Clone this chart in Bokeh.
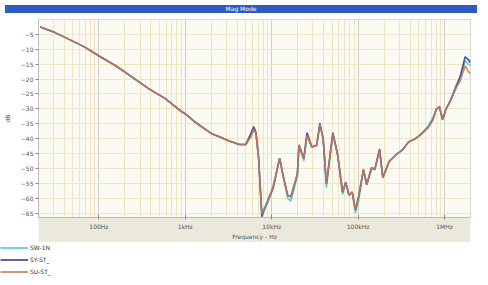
from bokeh.plotting import figure
from bokeh.models import (FixedTicker, Legend, LegendItem, Range1d, Div)
from bokeh.layouts import column
from bokeh.embed import file_html
from bokeh.resources import INLINE

# ---- data ----
title_text = "Mag Mode"
freq_hz = [21, 31, 44, 68, 104, 160, 247, 380, 583, 846, 1019, 1318, 2030, 2518,
           3120, 4219, 5012, 5702, 6210, 6580, 7060, 7690, 8750, 10400, 12360,
           13460, 15310, 16680, 19820, 20700, 23550, 25650, 29170, 33200, 36150,
           39450, 42950, 51050, 58050, 66100, 71900, 78400, 85500, 93100, 101400,
           115300, 125900, 143200, 156000, 177400, 193200, 229600, 272900, 323700,
           384600, 457100, 542000, 645000, 734500, 799700, 872900, 950600, 1035000,
           1178000, 1340000, 1524000, 1734000, 1892000, 2000000]

su_st_db = [-2.5, -4.4, -6.5, -9.2, -12.5, -15.7, -19.5, -23.3, -26.5, -30.3, -31.9,
            -34.6, -38.4, -39.5, -40.6, -42.0, -42.0, -39.5, -37.0, -38.2, -46.6,
            -65.5, -61.7, -56.3, -46.6, -52.0, -59.0, -59.5, -52.0, -42.2, -46.6,
            -39.0, -42.8, -42.2, -35.2, -40.1, -55.2, -38.4, -45.5, -58.0, -54.7,
            -59.0, -58.0, -63.9, -59.5, -50.4, -55.5, -49.8, -50.4, -43.9, -53.1,
            -47.6, -45.5, -43.9, -41.1, -40.1, -38.4, -36.3, -33.6, -30.3, -29.3,
            -33.6, -30.3, -27.1, -23.3, -20.5, -15.5, -17.5, -18.2]

sy_st_db = [-2.5, -4.4, -6.5, -9.2, -12.5, -15.7, -19.5, -23.3, -26.5, -30.3, -31.9,
            -34.6, -38.4, -39.5, -40.6, -42.0, -42.0, -38.5, -36.0, -38.0, -46.6,
            -66.2, -61.7, -56.3, -46.6, -52.0, -59.0, -59.5, -52.0, -42.2, -46.6,
            -38.0, -42.8, -42.2, -34.8, -40.1, -55.2, -38.0, -45.5, -58.0, -54.7,
            -59.0, -58.0, -63.9, -59.5, -50.4, -55.5, -49.8, -50.4, -43.5, -53.1,
            -47.6, -45.5, -43.9, -41.1, -40.1, -38.4, -36.3, -33.6, -30.3, -29.3,
            -33.6, -30.3, -27.1, -23.3, -19.0, -12.5, -13.5, -14.5]

sw_1n_db = [-2.5, -4.4, -6.5, -9.2, -12.5, -15.7, -19.5, -23.3, -26.5, -30.3, -31.9,
            -34.6, -38.4, -39.5, -40.6, -42.0, -42.0, -39.5, -37.0, -38.2, -46.6,
            -65.0, -62.3, -57.0, -46.6, -52.0, -60.0, -61.0, -52.5, -42.2, -47.5,
            -39.0, -42.8, -42.2, -35.2, -40.1, -56.5, -38.4, -45.5, -58.8, -54.7,
            -59.0, -58.0, -65.0, -61.0, -50.4, -55.5, -49.8, -50.4, -43.9, -53.1,
            -47.6, -45.5, -43.9, -41.1, -40.1, -38.4, -35.8, -33.0, -30.3, -29.3,
            -33.6, -30.3, -27.1, -22.5, -19.5, -13.8, -15.0, -15.5]

series_names = ["SW-1N", "SY-ST_", "SU-ST_"]
series_colors = ["#4cc8d2", "#3b3a8e", "#c27a5c"]

x_ticks = [100, 1000, 10000, 100000, 1000000]
x_tick_labels = ["100Hz", "1kHz", "10kHz", "100kHz", "1MHz"]
x_minor = [m * 10 ** d for d in range(1, 7) for m in range(2, 10)]
y_ticks = [-5, -10, -15, -20, -25, -30, -35, -40, -45, -50, -55, -60, -65]

# ---- main figure ----
p = figure(width=472, height=224, x_axis_type="log",
           x_range=Range1d(20, 2000000), y_range=Range1d(-66.5, 0),
           output_backend="svg", toolbar_location=None,
           min_border_left=31, min_border_right=2, min_border_top=1,
           min_border_bottom=0)

p.background_fill_color = "#fbfaf3"
p.border_fill_color = "#ffffff"
p.outline_line_color = "#d9d8cc"

for vals, col in zip([sw_1n_db, sy_st_db, su_st_db], series_colors):
    p.line(freq_hz, vals, line_color=col, line_width=1.6, line_alpha=0.9)

p.xaxis.ticker = FixedTicker(ticks=x_ticks, minor_ticks=x_minor)
p.xaxis.major_label_overrides = {t: l for t, l in zip(x_ticks, x_tick_labels)}
p.yaxis.ticker = FixedTicker(ticks=y_ticks)
p.xaxis.axis_label = "Frequency - Hz"
p.yaxis.axis_label = "dB"

for ax in (p.xaxis, p.yaxis):
    ax.major_label_text_font_size = "6px"
    ax.major_label_text_color = "#555555"
    ax.major_label_text_font = "DejaVu Sans"
    ax.axis_label_text_font_size = "6px"
    ax.axis_label_text_font_style = "normal"
    ax.axis_label_text_color = "#555555"
    ax.axis_label_text_font = "DejaVu Sans"
    ax.axis_line_color = "#bdbdb2"
    ax.major_tick_line_color = "#8a8a80"
    ax.minor_tick_line_color = None
    ax.major_tick_out = 3
    ax.major_tick_in = 0
    ax.major_label_standoff = 2

p.yaxis.axis_label_standoff = 7
p.xaxis.major_tick_in = 3
p.xaxis.major_tick_out = 2
p.xaxis.major_label_standoff = 1
p.xaxis.axis_label_standoff = 0
p.xaxis.major_label_text_line_height = 0.9
p.xaxis.axis_label_text_line_height = 0.9
p.xaxis.background_fill_color = "#ebe9dc"

p.xgrid.grid_line_color = "#cfcec2"
p.xgrid.minor_grid_line_color = "#efe5c3"
p.ygrid.grid_line_color = "#eee6c8"

# ---- legend strip (separate small figure below) ----
lg = figure(width=472, height=37, x_range=Range1d(0, 1), y_range=Range1d(0, 1),
            output_backend="svg", toolbar_location=None,
            x_axis_location=None, y_axis_location=None,
            min_border=0, min_border_left=0, min_border_right=0,
            min_border_top=0, min_border_bottom=0)
lg.grid.visible = False
lg.outline_line_color = None
lg.background_fill_color = "#ffffff"
lg.border_fill_color = "#ffffff"
for fig in (p, lg):
    try:
        fig.frame_align = False
    except Exception:
        pass

# placeholder renderers (outside the visible range) that only feed the legend
dummy = [lg.line([5, 6], [5, 6], line_color=c, line_width=1.6) for c in series_colors]
legend = Legend(items=[LegendItem(label=n, renderers=[r])
                       for n, r in zip(series_names, dummy)],
                location="top_left", orientation="vertical")
legend.label_text_font_size = "6px"
legend.label_text_font = "DejaVu Sans"
legend.label_text_color = "#333333"
legend.glyph_width = 28
legend.glyph_height = 11
legend.label_height = 11
legend.label_standoff = 2
legend.spacing = 1
legend.padding = 1
legend.margin = 0
legend.border_line_color = None
legend.background_fill_color = "#ffffff"
lg.add_layout(legend)

bar = Div(text=title_text, width=472, height=8,
          styles={"background-color": "#2d5bbf", "color": "#ffffff",
                  "font-size": "6px", "line-height": "8px",
                  "text-align": "center", "font-family": "DejaVu Sans"})

layout = column(bar, p, lg, spacing=0)

open("out.html", "w").write(file_html(layout, INLINE))
